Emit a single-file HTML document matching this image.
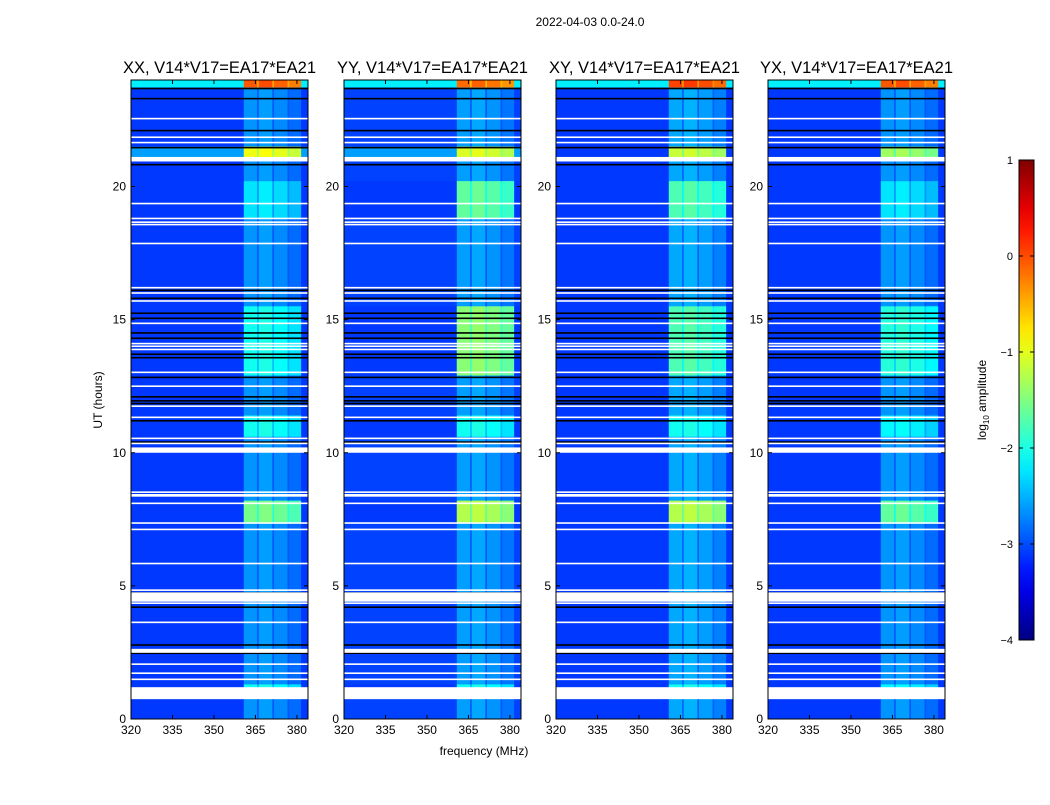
<!DOCTYPE html>
<html><head><meta charset="utf-8"><style>
body{margin:0;background:#fff;}
svg text{font-family:"Liberation Sans",sans-serif;}
</style></head><body>
<svg id="c" width="1050" height="800" xmlns="http://www.w3.org/2000/svg">
<rect width="1050" height="800" fill="#fff"/>
<text x="590" y="26" font-size="12" text-anchor="middle">2022-04-03 0.0-24.0</text>
<text x="484" y="755" font-size="12" text-anchor="middle">frequency (MHz)</text>
<text transform="translate(102,400) rotate(-90)" font-size="12" text-anchor="middle">UT (hours)</text>
</svg>
<script>
const panelTitles=["XX, V14*V17=EA17*EA21","YY, V14*V17=EA17*EA21","XY, V14*V17=EA17*EA21","YX, V14*V17=EA17*EA21"];
const xTicks=[320,335,350,365,380];
const yTicks=[0,5,10,15,20];
const cbTicks=[1,0,-1,-2,-3,-4];
const subBands=[[360.8,365.6],[366.2,371.1],[371.7,376.6],[377.2,381.5]];
const subBandOffset=[0.05,0.1,0,-0.15];
const bgLevel=[-3.1,-3.05,-3.1,-3.1];
const bandLevel=[-2.7,-2.65,-2.6,-2.7];
const gapLevel=[-2.95,-2.95,-2.9,-2.95];
const segStart=[0.9,7.35,10.6,12.9,18.8,21.0,23.72];
const segEnd=[1.3,8.2,11.4,15.5,20.2,21.5,24];
const segBandXX=[-2.1,-1.6,-2.1,-2.1,-2.3,-1.0,-0.1];
const segBandYY=[-2.1,-1.3,-2.1,-1.5,-1.7,-1.1,-0.2];
const segBandXY=[-2.1,-1.3,-2.1,-1.8,-1.8,-1.2,0.0];
const segBandYX=[-2.2,-1.7,-2.2,-2.0,-2.3,-1.4,-0.1];
const segBg=[-3.1,-3.1,-3.1,-3.1,-3.1,-2.6,-2.2];
const whiteLines=[0.97,1.49,1.72,2.06,2.56,3.63,4.35,4.58,4.84,5.84,7.12,7.36,8.1,8.4,8.52,10.1,10.35,10.54,11.33,11.75,12.5,13.02,13.88,14.0,14.1,14.86,15.7,16.0,16.2,17.86,18.57,18.66,18.8,19.36,20.97,21.05,21.65,21.85,22.55];
const whiteWidth=[0.45,0.06,0.06,0.06,0.15,0.06,0.06,0.35,0.06,0.06,0.06,0.06,0.06,0.1,0.06,0.2,0.06,0.06,0.06,0.06,0.06,0.06,0.06,0.06,0.06,0.06,0.06,0.06,0.06,0.06,0.06,0.06,0.06,0.06,0.06,0.12,0.06,0.06,0.06];
const blackLines=[2.47,2.78,4.2,4.73,10.4,11.2,11.85,11.95,12.1,12.83,13.57,13.7,14.3,14.5,15.05,15.24,15.8,16.1,20.82,21.46,22.1,23.3,23.68];

const svg=document.getElementById('c');
const NS='http://www.w3.org/2000/svg';
const panelX=[131,344,556,768], PW=177, PT=80, PB=719;
const fx=(f,i)=>panelX[i]+(f-320)/64*PW;
const ty=h=>PB-(h/24)*(PB-PT);
function jet(v){let t=(v+4)/5;t=Math.max(0,Math.min(1,t));
 const c=x=>Math.round(255*Math.max(0,Math.min(1,x)));
 return `rgb(${c(1.5-Math.abs(4*t-3))},${c(1.5-Math.abs(4*t-2))},${c(1.5-Math.abs(4*t-1))})`;}
function el(tag,attrs,parent){const e=document.createElementNS(NS,tag);for(const k in attrs)e.setAttribute(k,attrs[k]);(parent||svg).appendChild(e);return e;}
const segBandAll=[segBandXX,segBandYY,segBandXY,segBandYX];
for(let i=0;i<4;i++){
 const g=el('g',{});
 
 
 const bg=el('rect',{x:panelX[i],y:PT,width:PW,height:PB-PT,fill:jet(bgLevel[i])},g);
 
 
 const env=el('rect',{x:fx(subBands[0][0],i),y:PT,width:fx(subBands[3][1],i)-fx(subBands[0][0],i),height:PB-PT,fill:jet(gapLevel[i])},g);
 
 
 subBands.forEach((b,k)=>{const r=el('rect',{x:fx(b[0],i),y:PT,width:fx(b[1],i)-fx(b[0],i),height:PB-PT,fill:jet(bandLevel[i]+subBandOffset[k])},g);
  
  });
 segStart.forEach((s,j)=>{
  const y0=ty(segEnd[j]),y1=ty(s);
  const r=el('rect',{x:panelX[i],y:y0,width:PW,height:y1-y0,fill:jet(i<2||j==6?segBg[j]:bgLevel[i])},g);
  
  
  const e2=el('rect',{x:fx(subBands[0][0],i),y:y0,width:fx(subBands[3][1],i)-fx(subBands[0][0],i),height:y1-y0,fill:jet(segBandAll[i][j]-0.35)},g);
  
  
  subBands.forEach((b,k)=>{const q=el('rect',{x:fx(b[0],i),y:y0,width:fx(b[1],i)-fx(b[0],i),height:y1-y0,fill:jet(segBandAll[i][j]+subBandOffset[k])},g);
   
   });
 });
 blackLines.forEach(h=>{const r=el('rect',{x:panelX[i],y:ty(h)-0.8,width:PW,height:1.6,fill:'#000'},g);
  
  });
 whiteLines.forEach((h,j)=>{const hh=Math.max(1.6,whiteWidth[j]*(PB-PT)/24);const r=el('rect',{x:panelX[i],y:ty(h)-hh/2,width:PW,height:hh,fill:'#fff'},g);
  
  });
 const fr=el('rect',{x:panelX[i],y:PT,width:PW,height:PB-PT,fill:'none',stroke:'#000','stroke-width':1},g);
 
 
 const t=el('text',{x:panelX[i]+PW/2,y:73,'font-size':16.5,'text-anchor':'middle'},g);t.textContent=panelTitles[i];
 
 
 xTicks.forEach(f=>{const x=fx(f,i);el('line',{x1:x,x2:x,y1:PB,y2:PB-4,stroke:'#000'},g);el('line',{x1:x,x2:x,y1:PT,y2:PT+4,stroke:'#000'},g);
  const l=el('text',{x:x,y:PB+15,'font-size':12,'text-anchor':'middle'},g);l.textContent=f;
  
  });
 yTicks.forEach(h=>{const y=ty(h);el('line',{x1:panelX[i],x2:panelX[i]+4,y1:y,y2:y,stroke:'#000'},g);el('line',{x1:panelX[i]+PW,x2:panelX[i]+PW-4,y1:y,y2:y,stroke:'#000'},g);
  const l=el('text',{x:panelX[i]-5,y:y+4,'font-size':12,'text-anchor':'end'},g);l.textContent=h;
  
  });
}
// colorbar
const defs=el('defs',{});const lg=el('linearGradient',{id:'jet',x1:0,y1:1,x2:0,y2:0},defs);
for(let k=0;k<=20;k++){const v=-4+5*k/20;el('stop',{offset:k/20,'stop-color':jet(v)},lg);}
const CB0=160,CB1=640;
const cb=el('rect',{x:1019,y:CB0,width:15,height:CB1-CB0,fill:'url(#jet)',stroke:'#000','stroke-width':1});


cbTicks.forEach(v=>{const y=CB0+(1-v)/5*(CB1-CB0);el('line',{x1:1019,x2:1023,y1:y,y2:y,stroke:'#000'});el('line',{x1:1034,x2:1030,y1:y,y2:y,stroke:'#000'});
 const l=el('text',{x:1013,y:y+4,'font-size':11,'text-anchor':'end'});l.textContent=v<0?'\u2212'+(-v):v;
 
 });
const cl=el('text',{transform:'translate(986,400) rotate(-90)','font-size':12,'text-anchor':'middle'});
cl.innerHTML='log<tspan font-size="8" dy="3">10</tspan><tspan dy="-3"> amplitude</tspan>';


</script>
</body></html>
